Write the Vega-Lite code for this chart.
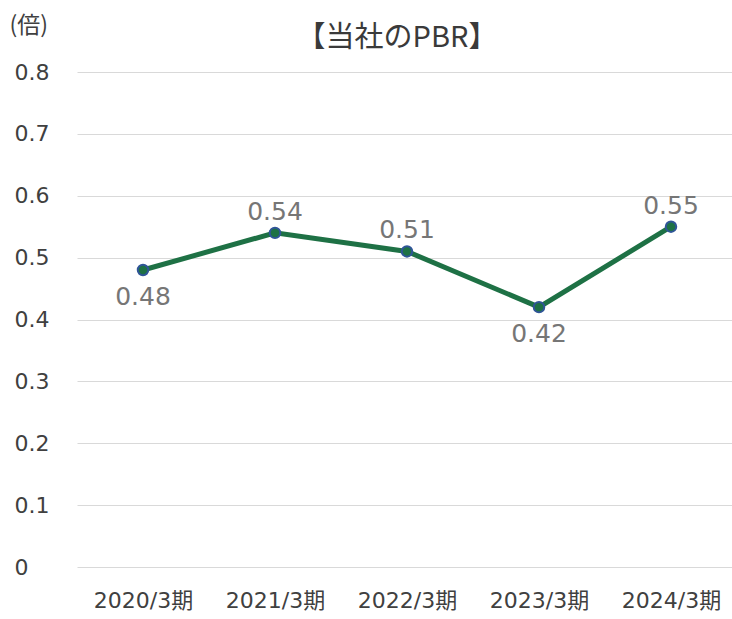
{
  "$schema": "https://vega.github.io/schema/vega-lite/v6.json",
  "width": 660,
  "height": 495,
  "autosize": {"type": "none"},
  "padding": {"left": 77, "top": 72, "right": -5, "bottom": 52},
  "background": "white",
  "config": {
    "view": {"stroke": null},
    "font": "DejaVu Sans, Noto Sans CJK JP"
  },
  "title": {
    "text": "【当社のPBR】",
    "fontSize": 29,
    "fontWeight": "normal",
    "color": "#3a3a3a",
    "font": "Noto Sans CJK JP",
    "anchor": "middle",
    "offset": 0,
    "dy": 39,
    "dx": -10
  },
  "data": {
    "values": [
      {"period": "2020/3期", "pbr": 0.48, "pos": "below"},
      {"period": "2021/3期", "pbr": 0.54, "pos": "above"},
      {"period": "2022/3期", "pbr": 0.51, "pos": "above"},
      {"period": "2023/3期", "pbr": 0.42, "pos": "below"},
      {"period": "2024/3期", "pbr": 0.55, "pos": "above"}
    ]
  },
  "encoding": {
    "x": {
      "field": "period",
      "type": "ordinal",
      "sort": null,
      "scale": {"padding": 0.5},
      "axis": {
        "title": null,
        "labelAngle": 0,
        "labelFontSize": 22,
        "labelColor": "#404040",
        "labelPadding": 23,
        "ticks": false,
        "domain": false,
        "grid": false
      }
    },
    "y": {
      "field": "pbr",
      "type": "quantitative",
      "scale": {"domain": [0, 0.8]},
      "axis": {
        "values": [0, 0.1, 0.2, 0.3, 0.4, 0.5, 0.6, 0.7, 0.8],
        "format": "~g",
        "labelFontSize": 22,
        "labelColor": "#404040",
        "labelAlign": "left",
        "labelPadding": 63,
        "ticks": false,
        "domain": false,
        "gridColor": "#d9d9d9",
        "gridWidth": 1,
        "title": "(倍)",
        "titleAngle": 0,
        "titleAlign": "left",
        "titleBaseline": "middle",
        "titleX": -68,
        "titleY": -47,
        "titleFontSize": 23,
        "titleFontWeight": "normal",
        "titleColor": "#404040",
        "titleFont": "Noto Sans CJK JP"
      }
    }
  },
  "layer": [
    {
      "mark": {"type": "line", "color": "#1e7145", "strokeWidth": 5}
    },
    {
      "mark": {"type": "point", "filled": true, "fill": "#1e7145", "stroke": "#2f5597", "strokeWidth": 2, "size": 110, "opacity": 1}
    },
    {
      "transform": [{"filter": "datum.pos === 'above'"}],
      "mark": {"type": "text", "fontSize": 25, "color": "#767676", "dy": -21, "baseline": "middle"},
      "encoding": {"text": {"field": "pbr", "type": "quantitative", "format": ".2f"}}
    },
    {
      "transform": [{"filter": "datum.pos === 'below'"}],
      "mark": {"type": "text", "fontSize": 25, "color": "#767676", "dy": 27, "baseline": "middle"},
      "encoding": {"text": {"field": "pbr", "type": "quantitative", "format": ".2f"}}
    }
  ]
}
